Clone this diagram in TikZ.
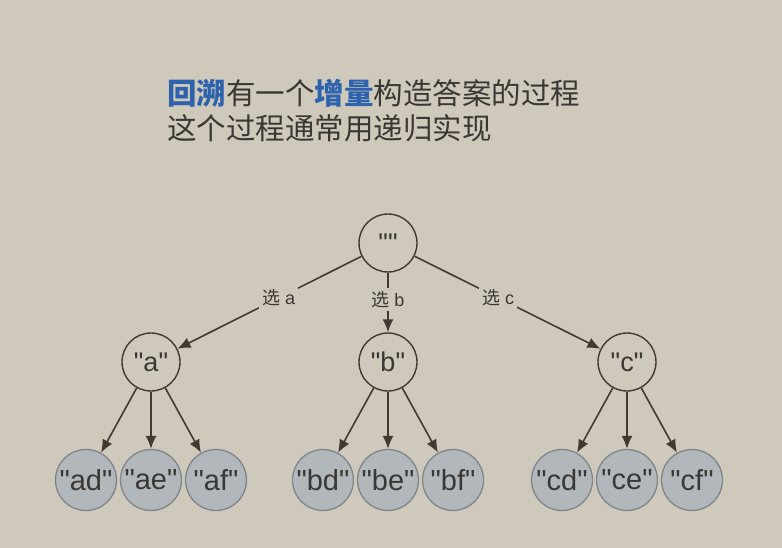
\documentclass[tikz,border=0pt]{standalone}
\usepackage{fontspec}
\setmainfont{Liberation Sans}[Ligatures=TeXOff]
\newfontfamily\cjk{Noto Sans CJK SC}
\usetikzlibrary{arrows.meta}
\definecolor{bgtan}{RGB}{207,201,188}
\definecolor{inkline}{RGB}{66,58,50}
\definecolor{leaffill}{RGB}{178,183,188}
\definecolor{leafline}{RGB}{128,133,140}
\definecolor{titleblue}{RGB}{45,98,172}
\definecolor{titleink}{RGB}{58,56,52}
\newcommand\qstr[1]{"#1"}
\tikzset{
  choice/.style={circle,draw=inkline,line width=1.4pt,minimum size=58pt,inner sep=0pt,font=\fontsize{27}{27}\selectfont,text=titleink},
  leaf/.style={circle,draw=leafline,fill=leaffill,line width=1.3pt,minimum size=61pt,inner sep=0pt,font=\fontsize{29}{29}\selectfont,text=titleink},
  link/.style={-{Latex[length=13pt,width=11pt]},draw=inkline,line width=1.6pt},
  pick/.style={fill=bgtan,inner sep=3pt,font=\fontsize{18}{18}\selectfont,text=titleink}
}
\begin{document}
\begin{tikzpicture}[x=1pt,y=-1pt]
        \fill[bgtan] (0,0) rectangle (782,548);
        \useasboundingbox (0,0) rectangle (782,548);
        % title
        \node[anchor=west,inner sep=0pt,text=titleink,font=\cjk\fontsize{29.5}{29.5}\selectfont] (line1) at (167,93) {\textcolor{titleblue}{\bfseries 回溯}有一个\textcolor{titleblue}{\bfseries 增量}构造答案的过程};
        \node[anchor=west,inner sep=0pt,text=titleink,font=\cjk\fontsize{29.5}{29.5}\selectfont] (line2) at (167,128) {这个过程通常用递归实现};
        % root and first choice
        \node[choice] (root) at (388,243) {\qstr{}};
        \node[choice] (a) at (151,362) {\qstr{a}};
        \node[choice] (b) at (388,362) {\qstr{b}};
        \node[choice] (c) at (627,362) {\qstr{c}};
        \draw[link] (root) -- node[pick,pos=.45] {{\cjk 选} a} (a);
        \draw[link] (root) -- node[pick,pos=.45] {{\cjk 选} b} (b);
        \draw[link] (root) -- node[pick,pos=.45] {{\cjk 选} c} (c);
        % second choice
        \node[leaf] (ad) at (86,480) {\qstr{ad}};
        \node[leaf] (ae) at (151,480) {\qstr{ae}};
        \node[leaf] (af) at (216,480) {\qstr{af}};
        \node[leaf] (bd) at (323,480) {\qstr{bd}};
        \node[leaf] (be) at (388,480) {\qstr{be}};
        \node[leaf] (bf) at (453,480) {\qstr{bf}};
        \node[leaf] (cd) at (562,480) {\qstr{cd}};
        \node[leaf] (ce) at (627,480) {\qstr{ce}};
        \node[leaf] (cf) at (692,480) {\qstr{cf}};
        \draw[link] (a) -- (ad);
        \draw[link] (a) -- (ae);
        \draw[link] (a) -- (af);
        \draw[link] (b) -- (bd);
        \draw[link] (b) -- (be);
        \draw[link] (b) -- (bf);
        \draw[link] (c) -- (cd);
        \draw[link] (c) -- (ce);
        \draw[link] (c) -- (cf);
\end{tikzpicture}
\end{document}
